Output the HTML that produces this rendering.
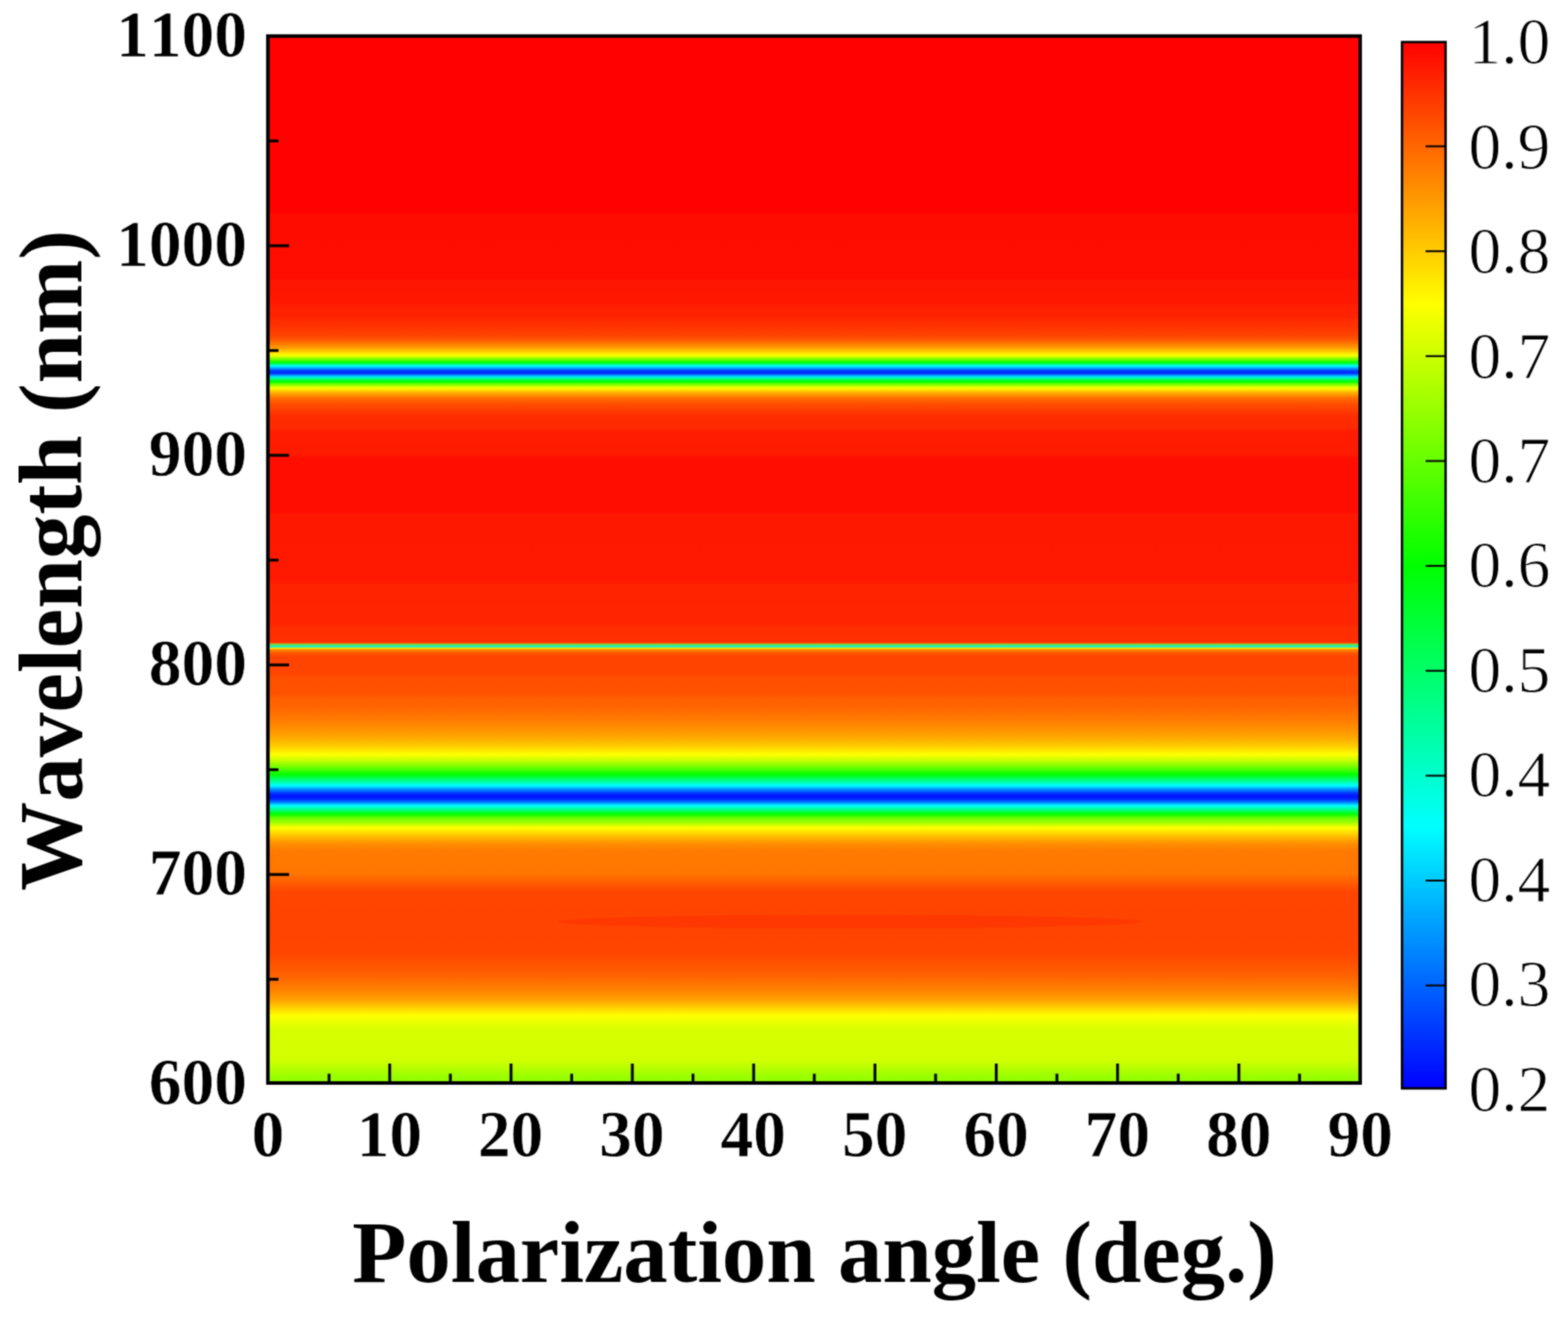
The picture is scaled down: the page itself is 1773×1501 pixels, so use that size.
<!DOCTYPE html>
<html lang="en"><head><meta charset="utf-8"><title>Polarization angle vs wavelength</title>
<style>
html,body{margin:0;padding:0;background:#fff;}
body{width:1773px;height:1501px;overflow:hidden;}
svg{display:block;}
text{font-family:"Liberation Serif","DejaVu Serif",serif;fill:#000;font-kerning:none;font-variant-ligatures:none;}
.b{font-weight:bold;}
.tk{font-size:74px;}
.ti{font-size:100.4px;}
.cl{stroke:#fff;stroke-width:0.9px;}
.tb{stroke:#fff;stroke-width:0.6px;}
</style></head><body>
<svg width="1773" height="1501" viewBox="0 0 1773 1501">
<defs>
<filter id="sf" filterUnits="userSpaceOnUse" x="0" y="0" width="1773" height="1501" color-interpolation-filters="sRGB"><feConvolveMatrix order="5" kernelMatrix="0.00009 0.00198 0.00548 0.00198 0.00009 0.00198 0.04220 0.11707 0.04220 0.00198 0.00548 0.11707 0.32480 0.11707 0.00548 0.00198 0.04220 0.11707 0.04220 0.00198 0.00009 0.00198 0.00548 0.00198 0.00009" edgeMode="duplicate" preserveAlpha="true"/></filter>
<linearGradient id="hm" gradientUnits="userSpaceOnUse" x1="0" y1="40.8" x2="0" y2="1225.0"><stop offset="0.00017" stop-color="rgb(255,1,0)"/><stop offset="0.16821" stop-color="rgb(255,2,0)"/><stop offset="0.17075" stop-color="rgb(255,12,0)"/><stop offset="0.23070" stop-color="rgb(255,13,0)"/><stop offset="0.23408" stop-color="rgb(255,22,0)"/><stop offset="0.25435" stop-color="rgb(255,23,0)"/><stop offset="0.25773" stop-color="rgb(255,32,0)"/><stop offset="0.26786" stop-color="rgb(255,34,0)"/><stop offset="0.27124" stop-color="rgb(255,44,0)"/><stop offset="0.27715" stop-color="rgb(255,48,0)"/><stop offset="0.28053" stop-color="rgb(255,58,0)"/><stop offset="0.28475" stop-color="rgb(255,66,0)"/><stop offset="0.28897" stop-color="rgb(255,80,0)"/><stop offset="0.29319" stop-color="rgb(255,115,0)"/><stop offset="0.29657" stop-color="rgb(255,145,0)"/><stop offset="0.30079" stop-color="rgb(255,195,0)"/><stop offset="0.30485" stop-color="rgb(255,255,0)"/><stop offset="0.30839" stop-color="rgb(128,255,0)"/><stop offset="0.31177" stop-color="rgb(0,255,0)"/><stop offset="0.31515" stop-color="rgb(0,255,255)"/><stop offset="0.31811" stop-color="rgb(0,128,255)"/><stop offset="0.31988" stop-color="rgb(0,55,255)"/><stop offset="0.32106" stop-color="rgb(0,40,255)"/><stop offset="0.32224" stop-color="rgb(0,55,255)"/><stop offset="0.32359" stop-color="rgb(0,128,255)"/><stop offset="0.32545" stop-color="rgb(0,230,255)"/><stop offset="0.32739" stop-color="rgb(0,255,128)"/><stop offset="0.33001" stop-color="rgb(0,255,0)"/><stop offset="0.33288" stop-color="rgb(128,255,0)"/><stop offset="0.33626" stop-color="rgb(255,255,0)"/><stop offset="0.34091" stop-color="rgb(255,170,0)"/><stop offset="0.34639" stop-color="rgb(255,105,0)"/><stop offset="0.35231" stop-color="rgb(255,75,0)"/><stop offset="0.35822" stop-color="rgb(255,60,0)"/><stop offset="0.36244" stop-color="rgb(255,44,0)"/><stop offset="0.37426" stop-color="rgb(255,42,0)"/><stop offset="0.37764" stop-color="rgb(255,28,0)"/><stop offset="0.39959" stop-color="rgb(255,27,0)"/><stop offset="0.40297" stop-color="rgb(255,14,0)"/><stop offset="0.45448" stop-color="rgb(255,14,0)"/><stop offset="0.45786" stop-color="rgb(255,24,0)"/><stop offset="0.52120" stop-color="rgb(255,25,0)"/><stop offset="0.52457" stop-color="rgb(255,36,0)"/><stop offset="0.56173" stop-color="rgb(255,37,0)"/><stop offset="0.56511" stop-color="rgb(255,46,0)"/><stop offset="0.57929" stop-color="rgb(255,47,0)"/><stop offset="0.58022" stop-color="rgb(255,130,0)"/><stop offset="0.58107" stop-color="rgb(80,235,70)"/><stop offset="0.58191" stop-color="rgb(70,235,100)"/><stop offset="0.58267" stop-color="rgb(25,232,220)"/><stop offset="0.58343" stop-color="rgb(30,232,215)"/><stop offset="0.58419" stop-color="rgb(170,232,50)"/><stop offset="0.58495" stop-color="rgb(255,220,0)"/><stop offset="0.58622" stop-color="rgb(255,135,0)"/><stop offset="0.58833" stop-color="rgb(255,100,0)"/><stop offset="0.59044" stop-color="rgb(255,80,0)"/><stop offset="0.59297" stop-color="rgb(255,68,0)"/><stop offset="0.60902" stop-color="rgb(255,68,0)"/><stop offset="0.61240" stop-color="rgb(255,80,0)"/><stop offset="0.62844" stop-color="rgb(255,82,0)"/><stop offset="0.63266" stop-color="rgb(255,95,0)"/><stop offset="0.64111" stop-color="rgb(255,100,0)"/><stop offset="0.64533" stop-color="rgb(255,110,0)"/><stop offset="0.65377" stop-color="rgb(255,125,0)"/><stop offset="0.66222" stop-color="rgb(255,145,0)"/><stop offset="0.67066" stop-color="rgb(255,170,0)"/><stop offset="0.67911" stop-color="rgb(255,210,0)"/><stop offset="0.68612" stop-color="rgb(255,255,0)"/><stop offset="0.69178" stop-color="rgb(200,255,0)"/><stop offset="0.69769" stop-color="rgb(120,255,0)"/><stop offset="0.70360" stop-color="rgb(30,255,0)"/><stop offset="0.70529" stop-color="rgb(0,255,0)"/><stop offset="0.71086" stop-color="rgb(0,255,128)"/><stop offset="0.71584" stop-color="rgb(0,255,255)"/><stop offset="0.72015" stop-color="rgb(0,128,255)"/><stop offset="0.72386" stop-color="rgb(0,40,255)"/><stop offset="0.72631" stop-color="rgb(0,20,255)"/><stop offset="0.72893" stop-color="rgb(0,40,255)"/><stop offset="0.73189" stop-color="rgb(0,128,255)"/><stop offset="0.73501" stop-color="rgb(0,255,255)"/><stop offset="0.73932" stop-color="rgb(0,255,128)"/><stop offset="0.74303" stop-color="rgb(0,255,0)"/><stop offset="0.74666" stop-color="rgb(100,255,0)"/><stop offset="0.75046" stop-color="rgb(150,255,0)"/><stop offset="0.75638" stop-color="rgb(255,255,0)"/><stop offset="0.76313" stop-color="rgb(255,200,0)"/><stop offset="0.76778" stop-color="rgb(255,165,0)"/><stop offset="0.77200" stop-color="rgb(255,140,0)"/><stop offset="0.77833" stop-color="rgb(255,122,0)"/><stop offset="0.79986" stop-color="rgb(255,118,0)"/><stop offset="0.80611" stop-color="rgb(255,100,0)"/><stop offset="0.81253" stop-color="rgb(255,82,0)"/><stop offset="0.81760" stop-color="rgb(255,70,0)"/><stop offset="0.83533" stop-color="rgb(255,68,0)"/><stop offset="0.85644" stop-color="rgb(255,67,0)"/><stop offset="0.87587" stop-color="rgb(255,70,0)"/><stop offset="0.88600" stop-color="rgb(255,82,0)"/><stop offset="0.89867" stop-color="rgb(255,100,0)"/><stop offset="0.91133" stop-color="rgb(255,130,0)"/><stop offset="0.92147" stop-color="rgb(255,165,0)"/><stop offset="0.92907" stop-color="rgb(255,215,0)"/><stop offset="0.93565" stop-color="rgb(255,255,0)"/><stop offset="0.94342" stop-color="rgb(230,255,0)"/><stop offset="0.95018" stop-color="rgb(215,255,0)"/><stop offset="0.97720" stop-color="rgb(210,255,0)"/><stop offset="0.98396" stop-color="rgb(190,255,0)"/><stop offset="0.98902" stop-color="rgb(170,255,0)"/><stop offset="0.99409" stop-color="rgb(152,255,0)"/><stop offset="1.00000" stop-color="rgb(145,255,0)"/></linearGradient>
<linearGradient id="cb" gradientUnits="userSpaceOnUse" x1="0" y1="47.6" x2="0" y2="1231.1">
<stop offset="0" stop-color="rgb(255,0,0)"/><stop offset="0.25" stop-color="rgb(255,255,0)"/><stop offset="0.5" stop-color="rgb(0,255,0)"/><stop offset="0.75" stop-color="rgb(0,255,255)"/><stop offset="1" stop-color="rgb(0,0,255)"/>
</linearGradient>
</defs>
<rect x="0" y="0" width="1773" height="1501" fill="#fff"/>
<g filter="url(#sf)">
<rect x="-5" y="-5" width="1783" height="1511" fill="#fff"/>
<rect x="302.9" y="40.8" width="1235.1" height="1184.2" fill="url(#hm)"/>
<ellipse cx="961" cy="1042.5" rx="330" ry="7.5" fill="rgb(255,55,0)"/>
<g stroke="#000" stroke-width="3.2" fill="none"><line x1="302.9" y1="1107.72" x2="314.90" y2="1107.72"/><line x1="302.9" y1="989.18" x2="326.90" y2="989.18"/><line x1="302.9" y1="870.64" x2="314.90" y2="870.64"/><line x1="302.9" y1="752.10" x2="326.90" y2="752.10"/><line x1="302.9" y1="633.56" x2="314.90" y2="633.56"/><line x1="302.9" y1="515.02" x2="326.90" y2="515.02"/><line x1="302.9" y1="396.48" x2="314.90" y2="396.48"/><line x1="302.9" y1="277.94" x2="326.90" y2="277.94"/><line x1="302.9" y1="159.40" x2="314.90" y2="159.40"/><line x1="372.09" y1="1225.0" x2="372.09" y2="1214.5"/><line x1="440.67" y1="1225.0" x2="440.67" y2="1203.0"/><line x1="509.25" y1="1225.0" x2="509.25" y2="1214.5"/><line x1="577.84" y1="1225.0" x2="577.84" y2="1203.0"/><line x1="646.42" y1="1225.0" x2="646.42" y2="1214.5"/><line x1="715.01" y1="1225.0" x2="715.01" y2="1203.0"/><line x1="783.60" y1="1225.0" x2="783.60" y2="1214.5"/><line x1="852.18" y1="1225.0" x2="852.18" y2="1203.0"/><line x1="920.76" y1="1225.0" x2="920.76" y2="1214.5"/><line x1="989.35" y1="1225.0" x2="989.35" y2="1203.0"/><line x1="1057.93" y1="1225.0" x2="1057.93" y2="1214.5"/><line x1="1126.52" y1="1225.0" x2="1126.52" y2="1203.0"/><line x1="1195.11" y1="1225.0" x2="1195.11" y2="1214.5"/><line x1="1263.69" y1="1225.0" x2="1263.69" y2="1203.0"/><line x1="1332.28" y1="1225.0" x2="1332.28" y2="1214.5"/><line x1="1400.86" y1="1225.0" x2="1400.86" y2="1203.0"/><line x1="1469.44" y1="1225.0" x2="1469.44" y2="1214.5"/></g>
<rect x="302.9" y="40.8" width="1235.1" height="1184.2" fill="none" stroke="#000" stroke-width="4.0"/>
<text class="b tk tb" transform="translate(279.20,1249.26)" text-anchor="end">600</text><text class="b tk tb" transform="translate(279.20,1012.18)" text-anchor="end">700</text><text class="b tk tb" transform="translate(279.20,775.10)" text-anchor="end">800</text><text class="b tk tb" transform="translate(279.20,538.02)" text-anchor="end">900</text><text class="b tk tb" transform="translate(279.20,300.94)" text-anchor="end">1000</text><text class="b tk tb" transform="translate(279.20,63.86)" text-anchor="end">1100</text>
<text class="b tk tb" transform="translate(302.90,1308.30)" text-anchor="middle">0</text><text class="b tk tb" transform="translate(440.13,1308.30)" text-anchor="middle">10</text><text class="b tk tb" transform="translate(577.37,1308.30)" text-anchor="middle">20</text><text class="b tk tb" transform="translate(714.60,1308.30)" text-anchor="middle">30</text><text class="b tk tb" transform="translate(851.83,1308.30)" text-anchor="middle">40</text><text class="b tk tb" transform="translate(989.06,1308.30)" text-anchor="middle">50</text><text class="b tk tb" transform="translate(1126.30,1308.30)" text-anchor="middle">60</text><text class="b tk tb" transform="translate(1263.53,1308.30)" text-anchor="middle">70</text><text class="b tk tb" transform="translate(1400.76,1308.30)" text-anchor="middle">80</text><text class="b tk tb" transform="translate(1538.00,1308.30)" text-anchor="middle">90</text>
<text class="b ti" transform="translate(921.00,1450.00)" text-anchor="middle">Polarization angle (deg.)</text>
<text class="b ti" style="font-size:100.8px" transform="translate(92.10,633.90) rotate(-90)" text-anchor="middle">Wavelength (nm)</text>
<rect x="1585.3" y="47.6" width="49.299999999999955" height="1183.5" fill="url(#cb)"/>
<g stroke="#000" stroke-width="2.1" fill="none"><line x1="1634.6" y1="165.50" x2="1612.0" y2="165.50"/><line x1="1634.6" y1="284.15" x2="1612.0" y2="284.15"/><line x1="1634.6" y1="402.80" x2="1612.0" y2="402.80"/><line x1="1634.6" y1="521.45" x2="1612.0" y2="521.45"/><line x1="1634.6" y1="640.10" x2="1612.0" y2="640.10"/><line x1="1634.6" y1="758.75" x2="1612.0" y2="758.75"/><line x1="1634.6" y1="877.40" x2="1612.0" y2="877.40"/><line x1="1634.6" y1="996.05" x2="1612.0" y2="996.05"/><line x1="1634.6" y1="1114.70" x2="1612.0" y2="1114.70"/></g>
<rect x="1585.3" y="47.6" width="49.299999999999955" height="1183.5" fill="none" stroke="#000" stroke-width="2.7"/>
<text class="tk cl" transform="translate(1660.60,72.10)">1.0</text><text class="tk cl" transform="translate(1660.60,190.57)">0.9</text><text class="tk cl" transform="translate(1660.60,309.04)">0.8</text><text class="tk cl" transform="translate(1660.60,427.51)">0.7</text><text class="tk cl" transform="translate(1660.60,545.98)">0.7</text><text class="tk cl" transform="translate(1660.60,664.45)">0.6</text><text class="tk cl" transform="translate(1660.60,782.92)">0.5</text><text class="tk cl" transform="translate(1660.60,901.39)">0.4</text><text class="tk cl" transform="translate(1660.60,1019.86)">0.4</text><text class="tk cl" transform="translate(1660.60,1138.33)">0.3</text><text class="tk cl" transform="translate(1660.60,1256.80)">0.2</text>
</g>
</svg>
</body></html>
